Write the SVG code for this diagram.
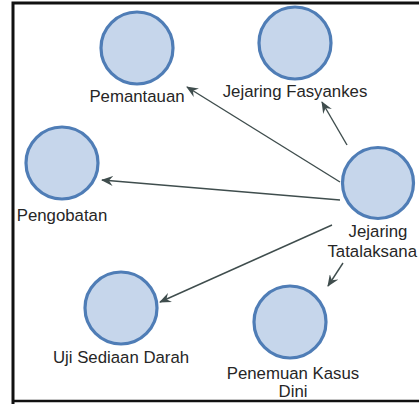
<svg xmlns="http://www.w3.org/2000/svg" width="419" height="404" viewBox="0 0 419 404">
<style>
.node circle{fill:#c6d6eb;stroke:#4f7db6;stroke-width:3.2}
.node text{font-family:"Liberation Sans",Arial,sans-serif;font-size:16.8px;fill:#262626;text-anchor:middle}
.edge{stroke:#3f4d4d;stroke-width:1.4;fill:none;marker-end:url(#arr)}
</style>
<defs>
<marker id="arr" viewBox="0 0 12 10" refX="11" refY="5" markerWidth="12" markerHeight="10" markerUnits="userSpaceOnUse" orient="auto">
<path d="M0,0 L12,5 L0,10 L4,5 z" fill="#3f4d4d"/>
</marker>
</defs>
<rect x="0" y="0" width="419" height="404" fill="#ffffff"/>
<path d="M13,404 L13,3 L419,3" fill="none" stroke="#111" stroke-width="3"/>
<path d="M13,401 L419,401" fill="none" stroke="#111" stroke-width="2.5"/>
<g id="connectors">
<line class="edge" x1="340" y1="182" x2="187" y2="87"/>
<line class="edge" x1="347" y1="145" x2="322" y2="102"/>
<line class="edge" x1="340" y1="200" x2="102" y2="180"/>
<line class="edge" x1="332" y1="225" x2="160" y2="302"/>
<line class="edge" x1="343" y1="263" x2="328" y2="286"/>
</g>
<g id="pemantauan" class="node">
<circle cx="137" cy="48" r="36"/>
<text x="137" y="102">Pemantauan</text>
</g>
<g id="jejaring-fasyankes" class="node">
<circle cx="295" cy="43" r="36"/>
<text x="295" y="97">Jejaring Fasyankes</text>
</g>
<g id="pengobatan" class="node">
<circle cx="62" cy="163" r="36"/>
<text x="62" y="221">Pengobatan</text>
</g>
<g id="jejaring-tatalaksana" class="node">
<circle cx="378" cy="183" r="35.5"/>
<text x="378" y="237">Jejaring</text>
<text x="417" y="257" style="text-anchor:end">Tatalaksana</text>
</g>
<g id="uji-sediaan-darah" class="node">
<circle cx="121" cy="308" r="36"/>
<text x="121" y="363">Uji Sediaan Darah</text>
</g>
<g id="penemuan-kasus-dini" class="node">
<circle cx="290" cy="322" r="36"/>
<text x="293" y="379">Penemuan Kasus</text>
<text x="293" y="397">Dini</text>
</g>
</svg>
